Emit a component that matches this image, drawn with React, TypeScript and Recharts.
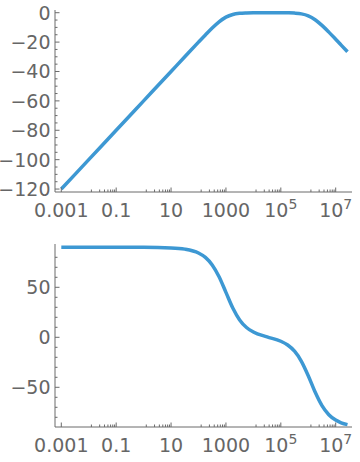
import React from "react";
import { LineChart, Line, XAxis, YAxis } from "recharts";

// Bode plot: magnitude (dB) and phase (deg) against angular frequency
const freqs = [
  0.001, 0.01, 0.1, 1, 10, 31.6, 100, 178, 316, 562, 1000, 1778, 3162, 5623,
  10000, 31623, 100000, 177828, 316228, 562341, 1000000, 1778279, 3162278,
  5623413, 10000000, 15850000, 26900000,
];
const magnitudeDb = [
  -120, -100, -80, -60, -40, -30, -20.04, -15.14, -10.41, -6.19, -3.01, -1.19,
  -0.41, -0.14, -0.04, -0.01, -0.03, -0.09, -0.27, -0.79, -2.12, -4.76, -8.64,
  -13.21, -18.07, -22.03, -26.61,
];
const phaseDeg = [
  90, 90, 89.99, 89.94, 89.4, 88.2, 84.3, 79.9, 72.4, 60.6, 44.95, 29.3, 17.4,
  9.8, 5.26, 0.38, -3.97, -7.72, -13.9, -23.97, -38.4, -54.7, -68.3, -77.4,
  -82.8, -85.5, -87.3,
];

const freqMajorTicks = [0.001, 0.1, 10, 1000, 100000, 10000000];
const magMajorTicks = [0, -20, -40, -60, -80, -100, -120];
const magMinorTicks = [
  -5, -10, -15, -25, -30, -35, -45, -50, -55, -65, -70, -75, -85, -90, -95,
  -105, -110, -115,
];
const phaseMajorTicks = [50, 0, -50];
const phaseMinorTicks = [80, 70, 60, 40, 30, 20, 10, -10, -20, -30, -40, -60, -70, -80];

// Mathematica puts 7 minor ticks below each labelled decade (m*k/8)
const freqMinorTicks = freqMajorTicks
  .slice(1)
  .flatMap((m) => [1, 2, 3, 4, 5, 6, 7].map((k) => (m * k) / 8));
const freqTicks = [...freqMajorTicks, ...freqMinorTicks];

const FRAME = "#6b6b6b";
const LABEL = "#666666";
const LINE = "#3d98d3";
const FONT = "'DejaVu Sans', sans-serif";
const FREQ_DOMAIN = [0.000589, 39300000];

const fmtNum = (v: number) => (v < 0 ? `\u2212${Math.abs(v)}` : `${v}`);

function FreqTick(props: any) {
  const { x, y, payload, side } = props;
  const v = payload.value as number;
  const major = freqMajorTicks.includes(v);
  const len = major ? 4.5 : 2.5;
  const dir = side === "bottom" ? -1 : 1;
  let label: React.ReactNode = null;
  if (side === "bottom" && major) {
    if (v >= 100000) {
      const exp = Math.round(Math.log10(v));
      label = (
        <text x={x} y={y + 24.5} textAnchor="middle" fill={LABEL} fontSize={19} fontFamily={FONT}>
          <tspan>10</tspan>
          <tspan dy={-8} fontSize={14}>
            {exp}
          </tspan>
        </text>
      );
    } else {
      label = (
        <text x={x} y={y + 24.5} textAnchor="middle" fill={LABEL} fontSize={19} fontFamily={FONT}>
          {String(v)}
        </text>
      );
    }
  }
  return (
    <g>
      <line x1={x} x2={x} y1={y} y2={y + dir * len} stroke={FRAME} strokeWidth={1} />
      {label}
    </g>
  );
}

function ValueTick(props: any) {
  const { x, y, payload, side, majors } = props;
  const v = payload.value as number;
  const major = majors.includes(v);
  const len = major ? 4.5 : 2.5;
  const dir = side === "left" ? 1 : -1;
  return (
    <g>
      <line x1={x} x2={x + dir * len} y1={y} y2={y} stroke={FRAME} strokeWidth={1} />
      {side === "left" && major && (
        <text x={x - 4.5} y={y + 7} textAnchor="end" fill={LABEL} fontSize={19} fontFamily={FONT}>
          {fmtNum(v)}
        </text>
      )}
    </g>
  );
}

interface PanelProps {
  values: number[];
  domain: number[];
  majors: number[];
  minors: number[];
  top: number;
  bottom: number;
}

function BodePanel({ values, domain, majors, minors, top, bottom }: PanelProps) {
  const data = freqs.map((f, i) => ({ f, v: values[i] }));
  const yTicks = [...majors, ...minors];
  return (
    <LineChart width={360} height={231} data={data} margin={{ top, right: 8, bottom: 0, left: 0 }}>
      <XAxis
        dataKey="f"
        type="number"
        scale="log"
        domain={FREQ_DOMAIN}
        allowDataOverflow
        ticks={freqTicks}
        interval={0}
        height={bottom}
        tickSize={0}
        tickMargin={0}
        tickLine={false}
        axisLine={{ stroke: FRAME }}
        tick={(p: any) => <FreqTick {...p} side="bottom" />}
      />
      <XAxis
        xAxisId="t"
        orientation="top"
        dataKey="f"
        type="number"
        scale="log"
        domain={FREQ_DOMAIN}
        allowDataOverflow
        ticks={freqTicks}
        interval={0}
        height={0}
        tickSize={0}
        tickMargin={0}
        tickLine={false}
        axisLine={{ stroke: FRAME }}
        tick={(p: any) => <FreqTick {...p} side="top" />}
      />
      <YAxis
        type="number"
        domain={domain}
        allowDataOverflow
        ticks={yTicks}
        interval={0}
        width={55}
        tickSize={0}
        tickMargin={0}
        tickLine={false}
        axisLine={{ stroke: FRAME }}
        tick={(p: any) => <ValueTick {...p} side="left" majors={majors} />}
      />
      <YAxis
        yAxisId="r"
        orientation="right"
        type="number"
        domain={domain}
        allowDataOverflow
        ticks={yTicks}
        interval={0}
        width={0}
        tickSize={0}
        tickMargin={0}
        tickLine={false}
        axisLine={{ stroke: FRAME }}
        tick={(p: any) => <ValueTick {...p} side="right" majors={majors} />}
      />
      <Line
        type="monotone"
        dataKey="v"
        stroke={LINE}
        strokeWidth={3.5}
        dot={false}
        activeDot={false}
        isAnimationActive={false}
      />
    </LineChart>
  );
}

export default function App() {
  return (
    <div style={{ position: "absolute", left: 0, top: 0, width: 360, height: 462, background: "#fff" }}>
      <div style={{ position: "absolute", left: 0, top: 0 }}>
        <BodePanel
          values={magnitudeDb}
          domain={[-122, 1.84]}
          majors={magMajorTicks}
          minors={magMinorTicks}
          top={10}
          bottom={39}
        />
      </div>
      <div style={{ position: "absolute", left: 0, top: 231 }}>
        <BodePanel
          values={phaseDeg}
          domain={[-89.7, 93.3]}
          majors={phaseMajorTicks}
          minors={phaseMinorTicks}
          top={13}
          bottom={35}
        />
      </div>
    </div>
  );
}
